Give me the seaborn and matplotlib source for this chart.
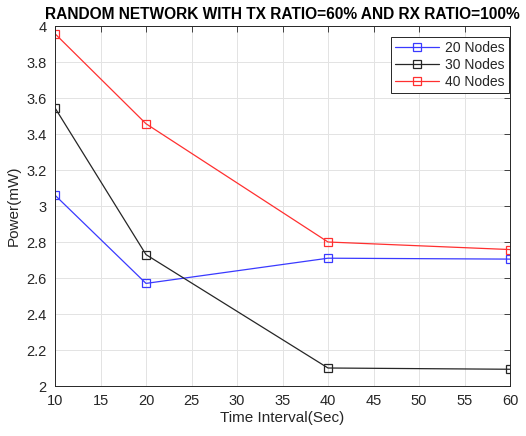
import matplotlib
matplotlib.use("Agg")
import matplotlib.pyplot as plt
import seaborn as sns
import pandas as pd

time_interval = [10, 20, 40, 60]
nodes20 = [3.06, 2.57, 2.71, 2.705]
nodes30 = [3.545, 2.73, 2.10, 2.093]
nodes40 = [3.957, 3.457, 2.80, 2.758]
labels = ["20 Nodes", "30 Nodes", "40 Nodes"]
colors = ["#3a3aff", "#262626", "#ff3030"]

sns.set_theme(style="white")
plt.rcParams['font.family'] = ['Liberation Sans', 'DejaVu Sans']

fig = plt.figure(figsize=(5.26, 4.36), dpi=100)
ax = fig.add_axes([55/526, 50/436, 455/526, 360/436])

for vals, lab, col in zip([nodes20, nodes30, nodes40], labels, colors):
    df = pd.DataFrame({"t": time_interval, "p": vals})
    sns.lineplot(data=df, x="t", y="p", ax=ax, color=col, linewidth=0.9,
                 marker="s", markersize=6, markerfacecolor="none",
                 markeredgecolor=col, markeredgewidth=0.9, label=lab)

ax.set_xlim(10, 60)
ax.set_ylim(2, 4)
ax.set_xticks(range(10, 61, 5))
ax.set_yticks([2, 2.2, 2.4, 2.6, 2.8, 3, 3.2, 3.4, 3.6, 3.8, 4])
ax.set_yticklabels(["2", "2.2", "2.4", "2.6", "2.8", "3", "3.2", "3.4", "3.6", "3.8", "4"])
ax.grid(True, color="#e3e3e3", linewidth=0.7)
ax.tick_params(direction="in", length=4, top=True, right=True, labelsize=10.5,
               colors="#262626", width=0.6)
ax.tick_params(axis="x", pad=6)
ax.tick_params(axis="y", pad=6)
for s in ax.spines.values():
    s.set_color("#262626")
    s.set_linewidth(0.7)
ax.set_xlabel("Time Interval(Sec)", fontsize=11, color="#262626", labelpad=2)
ax.set_ylabel("Power(mW)", fontsize=11, color="#262626", labelpad=4)
ax.set_title("RANDOM NETWORK WITH TX RATIO=60% AND RX RATIO=100%",
             fontsize=11.2, fontweight="bold", color="black", pad=5)
leg = ax.legend(loc="upper right", bbox_to_anchor=(0.997, 0.97), borderaxespad=0,
                fontsize=10, frameon=True, fancybox=False, edgecolor="#262626",
                framealpha=1, borderpad=0.3, labelspacing=0.2, handlelength=3.2,
                handletextpad=0.4)
leg.get_frame().set_linewidth(0.7)

fig.savefig("out.png", dpi=100)
